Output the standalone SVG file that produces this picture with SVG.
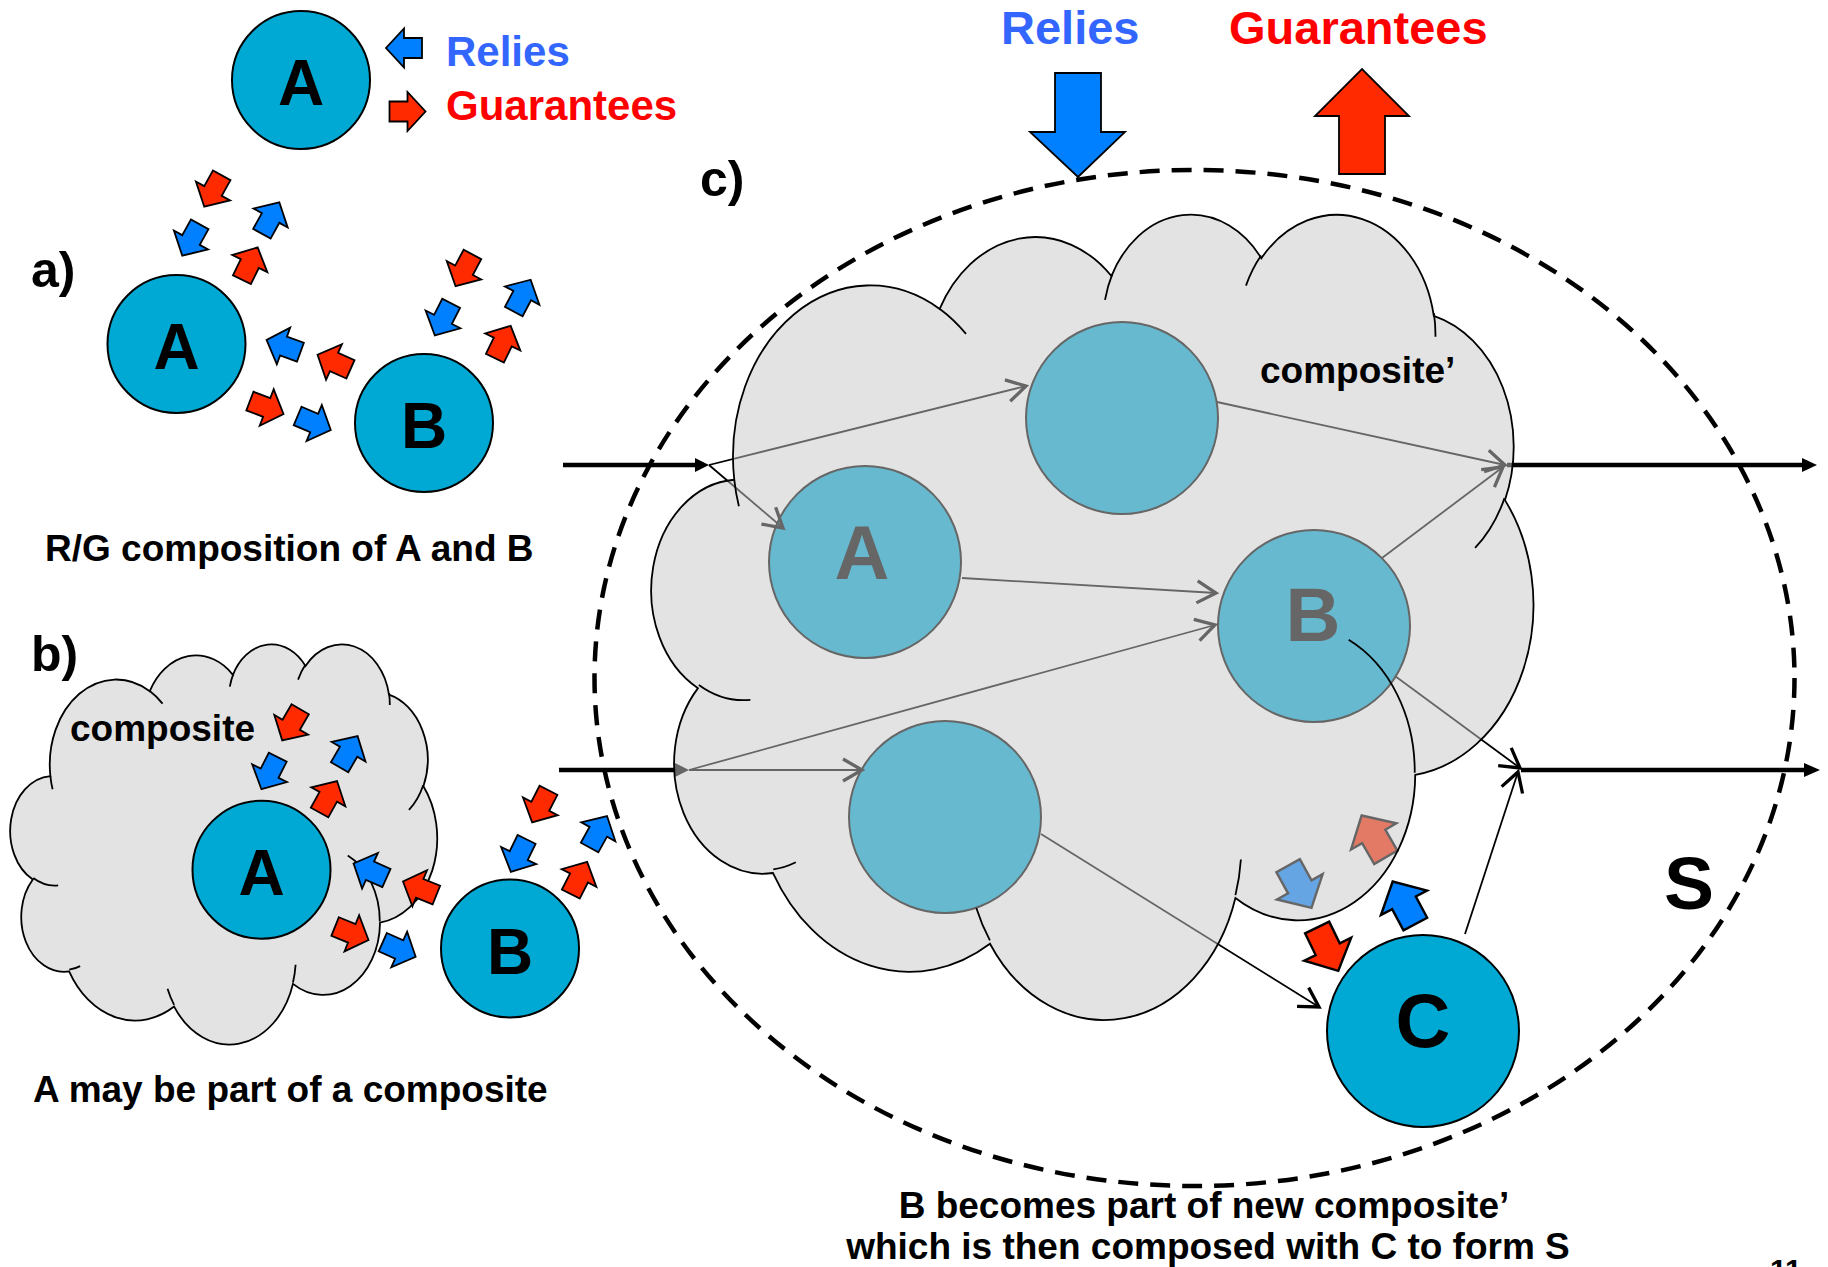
<svg xmlns="http://www.w3.org/2000/svg" width="1828" height="1267" viewBox="0 0 1828 1267">
<style>
text{font-family:"Liberation Sans",Arial,Helvetica,sans-serif;font-weight:bold}
.lbl{font-size:37px;fill:#000}
.sec{font-size:50px;fill:#000}
.big{font-size:64px;fill:#000;text-anchor:middle}
.bigc{font-size:76px;fill:#000;text-anchor:middle}
.node{fill:#00A9D4;stroke:#000;stroke-width:2}
.blue{fill:#0080FF}
.red{fill:#FF2A00}
.cloud{fill:#C8C8C8;fill-opacity:0.51;stroke:#000;stroke-width:1.8}
.inner{stroke:#000;stroke-width:1.8}
.conn{fill:none;stroke:#000;stroke-width:1.8;marker-end:url(#chev)}
.thick{fill:none;stroke:#000;stroke-width:4.5}
.dash{fill:none;stroke:#000;stroke-width:4.5;stroke-dasharray:20 12}
</style>
<defs>
<path id="sa" d="M-18,-10H0V-19.5L18,0L0,19.5V10H-18Z" stroke="#000" stroke-width="1.8" stroke-linejoin="miter"/>
<path id="cloud" vector-effect="non-scaling-stroke" d="M39,143.7A67.53,91.9 0 0 1 140.05,52.02A53.33,72.67 0 0 1 224.58,34.37A43.65,59.45 0 0 1 298.34,24.83A48.57,65.95 0 0 1 383.19,55.79A53.33,72.73 0 0 1 418.2,154.62A67.75,92.2 0 0 1 374.06,302.07A57.85,78.67 0 0 1 285.58,368.17A67.52,92.15 0 0 1 164.82,392.68A77.2,105.43 0 0 1 58.07,354.73A43.6,59.18 0 0 1 21.15,255.52A43.45,59.45 0 0 1 39,143.7Z"/>
<path id="cloudIn" vector-effect="non-scaling-stroke" fill="none" d="M46.93,261.77A43.45,59.45 0 0 1 21.6,253.8M69.28,348.99A43.6,59.18 0 0 1 58.2,352.81M164.78,390.9A67.52,92.15 0 0 1 158.1,373.5M288.27,347.51A67.52,92.15 0 0 1 285.6,366.6M341.29,229.54A57.85,78.67 0 0 1 373.81,300.9M417.98,153.54A53.33,72.73 0 0 1 403.5,180.3M383.24,54.26A48.57,65.95 0 0 1 384.01,66.9M290.78,39.52A48.57,65.95 0 0 1 298.2,23.4M221.41,47.2A43.65,59.45 0 0 1 225,33.32M140,51.92A67.53,91.9 0 0 1 153.02,65.44M41.27,157.89A67.53,91.9 0 0 1 39,143.71"/>
<marker id="chev" markerUnits="userSpaceOnUse" markerWidth="40" markerHeight="40" viewBox="-30 -20 40 40" refX="0" refY="0" orient="auto"><path d="M-19,-11L0,0L-19,11" fill="none" stroke="#000" stroke-width="3.3"/></marker>
</defs>
<rect width="1828" height="1267" fill="#fff"/>

<!-- Legend -->
<g id="legend">
<g id="legend-A"><circle class="node" cx="301" cy="80" r="69"/><text class="big" x="301" y="105">A</text></g>
<use href="#sa" class="blue" transform="translate(404,48) rotate(180)"/>
<use href="#sa" class="red" transform="translate(407.5,111.5)"/>
<text x="446" y="66" font-size="42" fill="#3366FF">Relies</text>
<text x="446" y="120" font-size="42" fill="#FF0000">Guarantees</text>
</g>

<!-- Section a -->
<g id="section-a">
<text class="sec" x="31" y="287">a)</text>
<g id="a-A"><circle class="node" cx="176.5" cy="344" r="69"/><text class="big" x="176.5" y="369">A</text></g>
<g id="a-B"><circle class="node" cx="424" cy="423" r="69"/><text class="big" x="424" y="448">B</text></g>
<g id="a-arrows">
<use href="#sa" class="red" transform="translate(213,191) rotate(119)"/>
<use href="#sa" class="blue" transform="translate(191,240) rotate(119)"/>
<use href="#sa" class="blue" transform="translate(270.6,218) rotate(-61)"/>
<use href="#sa" class="red" transform="translate(249.8,263.6) rotate(-64)"/>
<use href="#sa" class="blue" transform="translate(283.5,346) rotate(200)"/>
<use href="#sa" class="red" transform="translate(334,362) rotate(204)"/>
<use href="#sa" class="red" transform="translate(266.7,407.5) rotate(21)"/>
<use href="#sa" class="blue" transform="translate(314.2,423) rotate(23)"/>
<use href="#sa" class="red" transform="translate(464,270.3) rotate(118)"/>
<use href="#sa" class="blue" transform="translate(443,319.4) rotate(117)"/>
<use href="#sa" class="blue" transform="translate(522.2,295.6) rotate(-62)"/>
<use href="#sa" class="red" transform="translate(502.8,342) rotate(-64)"/>
</g>
<text class="lbl" x="45" y="561">R/G composition of A and B</text>
</g>

<!-- Section b -->
<g id="section-b">
<text class="sec" x="31" y="671">b)</text>
<g id="b-composite">
<use href="#cloud" class="cloud" transform="translate(12,643) scale(0.9838,0.9259)"/>
<use href="#cloudIn" class="inner" transform="translate(12,643) scale(0.9838,0.9259)"/>
<text class="lbl" x="70" y="741">composite</text>
</g>
<g id="b-A"><circle class="node" cx="261.5" cy="869.7" r="69"/><text class="big" x="261.5" y="894.7">A</text></g>
<g id="b-B"><circle class="node" cx="510" cy="948.5" r="69"/><text class="big" x="510" y="973.5">B</text></g>
<g id="b-arrows">
<use href="#sa" class="red" transform="translate(291.2,724.8) rotate(120)"/>
<use href="#sa" class="blue" transform="translate(269.6,773.2) rotate(117)"/>
<use href="#sa" class="blue" transform="translate(348.6,751.7) rotate(-60)"/>
<use href="#sa" class="red" transform="translate(328.3,796.8) rotate(-61)"/>
<use href="#sa" class="blue" transform="translate(370,870.7) rotate(204)"/>
<use href="#sa" class="red" transform="translate(419.7,888.3) rotate(202)"/>
<use href="#sa" class="red" transform="translate(351.8,933.3) rotate(22)"/>
<use href="#sa" class="blue" transform="translate(399.2,949.5) rotate(24)"/>
<use href="#sa" class="red" transform="translate(540.3,806.3) rotate(117)"/>
<use href="#sa" class="blue" transform="translate(518.7,855.6) rotate(116)"/>
<use href="#sa" class="blue" transform="translate(598.3,831.8) rotate(-61)"/>
<use href="#sa" class="red" transform="translate(579,878) rotate(-63)"/>
</g>
<text class="lbl" x="33" y="1102">A may be part of a composite</text>
</g>

<!-- Section c -->
<g id="section-c">
<text class="sec" x="700" y="196">c)</text>
<g id="S-boundary"><ellipse class="dash" cx="1194.5" cy="678" rx="600" ry="508"/></g>
<g id="top-relies">
<path d="M1055,73H1101V132H1125L1078,177L1030,132H1055Z" fill="#0080FF" stroke="#000" stroke-width="1.8"/>
<text x="1001" y="44" font-size="47" fill="#3366FF">Relies</text>
</g>
<g id="top-guarantees">
<path d="M1339,174V116H1315L1362,69L1409,116H1385V174Z" fill="#FF2A00" stroke="#000" stroke-width="1.8"/>
<text x="1229" y="44" font-size="47" fill="#FF0000">Guarantees</text>
</g>
<g id="c-top"><circle class="node" cx="1122" cy="418" r="96"/></g>
<g id="c-A"><circle class="node" cx="865" cy="562" r="96"/><text class="bigc" x="862" y="579">A</text></g>
<g id="c-B"><circle class="node" cx="1314" cy="626" r="96"/><text class="bigc" x="1313" y="641">B</text></g>
<g id="c-bottom"><circle class="node" cx="945" cy="817" r="96"/></g>
<g id="connectors">
<path class="thick" d="M563,465H697"/><polygon points="695,458 709,465 695,472"/>
<path class="thick" d="M559,770H677"/><polygon points="675,763 689,770 675,777"/>
<path class="thick" d="M1507,465H1804"/><polygon points="1802,458 1817,465 1802,472"/>
<path class="thick" d="M1521,770H1806"/><polygon points="1804,763 1820,770 1804,777"/>
<path class="conn" d="M709,465L1026,386"/>
<path class="conn" d="M709,465L783,528"/>
<path class="conn" d="M1217,402L1505,465"/>
<path class="conn" d="M1382,558L1503,467"/>
<path class="conn" d="M962,578L1216,593"/>
<path class="conn" d="M689,770L1215,625"/>
<path class="conn" d="M689,770L862,770"/>
<path class="conn" d="M1395,676L1520,768"/>
<path class="conn" d="M1041,834L1319,1007"/>
<path class="conn" d="M1465,934L1518,772"/>
</g>
<g id="c-arrows">
<use href="#sa" class="blue" transform="translate(1299.8,886.8) rotate(61) scale(1.34)"/>
<use href="#sa" class="red" transform="translate(1373.7,836.4) rotate(-120) scale(1.34)"/>
<use href="#sa" class="blue" transform="translate(1404,902.8) rotate(-118) scale(1.34)"/>
<use href="#sa" class="red" transform="translate(1327.7,949.2) rotate(64) scale(1.34)"/>
</g>
<g id="c-composite">
<use href="#cloud" class="cloud" transform="translate(655,212) scale(2.0324,1.8634)"/>
<use href="#cloudIn" class="inner" transform="translate(655,212) scale(2.0324,1.8634)"/>
<text class="lbl" x="1260" y="383">composite’</text>
</g>
<g id="c-C"><circle class="node" cx="1423" cy="1031" r="96"/><text class="bigc" x="1423" y="1047" font-size="75">C</text></g>
<text x="1664" y="909" font-size="75">S</text>
<text class="lbl" x="1204" y="1218" text-anchor="middle">B becomes part of new composite’</text>
<text class="lbl" x="1208" y="1259" text-anchor="middle">which is then composed with C to form S</text>
</g>
<text x="1770" y="1280" font-size="30">11</text>
</svg>
